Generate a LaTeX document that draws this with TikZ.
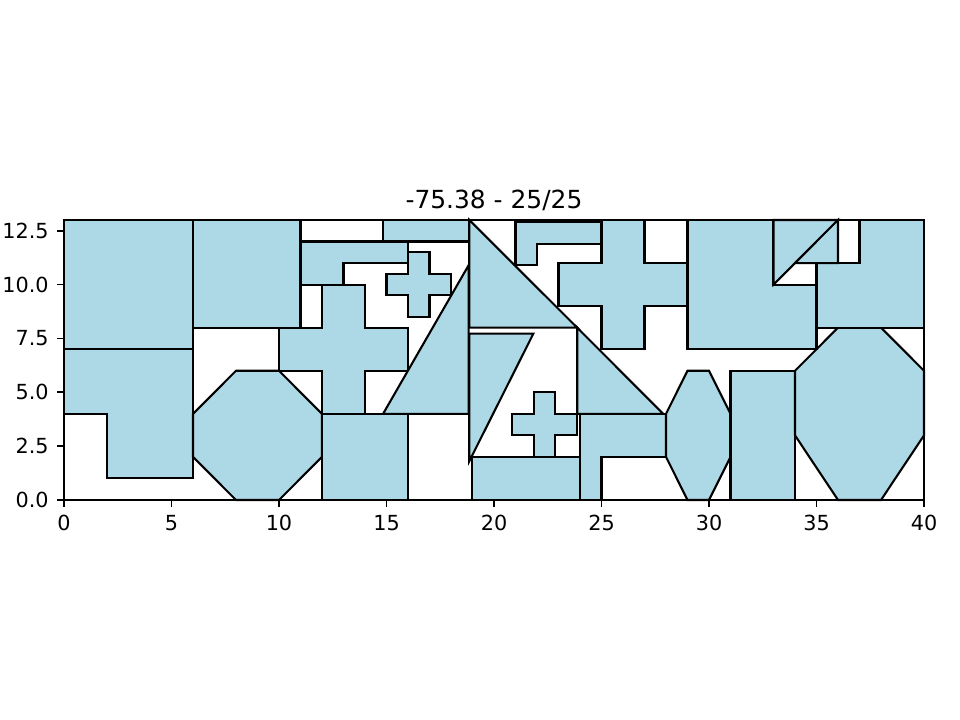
\documentclass[tikz,border=0pt]{standalone}
\usepackage{fontspec}
\setmainfont{DejaVu Sans}
\usetikzlibrary{positioning}
\definecolor{lightblue}{HTML}{ADD8E6}

\begin{document}
\begin{tikzpicture}[
    x=0.5461cm, y=0.5471cm,
    piece/.style={draw=black, fill=lightblue, line width=1.5pt, line join=miter},
    frame/.style={draw=black, line width=1.2pt},
    tickmark/.style={line width=1.2pt},
    every node/.style={font=\fontsize{15}{18}\selectfont, inner sep=0pt}
]
\useasboundingbox (-2.9767,-10.2136) rectangle (41.674,23.2126);

% Left block
\draw[piece] (0,7) rectangle (6,13);
\draw[piece] (6,8) rectangle (11,13);
\draw[piece] (0,7) -- (6,7) -- (6,1) -- (2,1) -- (2,4) -- (0,4) -- cycle;
\draw[piece] (8,6) -- (10,6) -- (12,4) -- (12,2) -- (10,0) -- (8,0) -- (6,2) -- (6,4) -- cycle;
\draw[piece] (12,10) -- (14,10) -- (14,8) -- (16,8) -- (16,6) -- (14,6) -- (14,4) -- (12,4)
    -- (12,6) -- (10,6) -- (10,8) -- (12,8) -- cycle;
\draw[piece] (12,0) rectangle (16,4);
\draw[piece] (11,12) -- (16,12) -- (16,11) -- (13,11) -- (13,10) -- (11,10) -- cycle;
\draw[piece] (14.84,12) rectangle (18.82,13);
\draw[piece] (16,11.5) -- (17,11.5) -- (17,10.5) -- (18,10.5) -- (18,9.5) -- (17,9.5) -- (17,8.5)
    -- (16,8.5) -- (16,9.5) -- (15,9.5) -- (15,10.5) -- (16,10.5) -- cycle;
\draw[piece] (14.84,4) -- (18.82,4) -- (18.82,10.9) -- cycle;

% Middle block
\draw[piece] (18.85,13) -- (18.85,8) -- (23.87,8) -- cycle;
\draw[piece] (18.85,7.72) -- (21.83,7.72) -- (18.85,1.8) -- cycle;
\draw[piece] (18.97,0) rectangle (24,2);
\draw[piece] (21.85,5) -- (22.85,5) -- (22.85,4) -- (23.85,4) -- (23.85,3) -- (22.85,3) -- (22.85,2)
    -- (21.85,2) -- (21.85,3) -- (20.85,3) -- (20.85,4) -- (21.85,4) -- cycle;
\draw[piece] (23.87,8) -- (23.87,4) -- (27.87,4) -- cycle;
\draw[piece] (24,4) -- (28,4) -- (28,2) -- (25,2) -- (25,0) -- (24,0) -- cycle;
\draw[piece] (21,12.9) -- (25,12.9) -- (25,11.9) -- (22,11.9) -- (22,10.9) -- (21,10.9) -- cycle;
\draw[piece] (25,13) -- (27,13) -- (27,11) -- (29,11) -- (29,9) -- (27,9) -- (27,7) -- (25,7)
    -- (25,9) -- (23,9) -- (23,11) -- (25,11) -- cycle;

% Right block
\draw[piece] (29,6) -- (30,6) -- (31,4) -- (31,2) -- (30,0) -- (29,0) -- (28,2) -- (28,4) -- cycle;
\draw[piece] (31,0) rectangle (34,6);
\draw[piece] (36,8) -- (38,8) -- (40,6) -- (40,3) -- (38,0) -- (36,0) -- (34,3) -- (34,6) -- cycle;
\draw[piece] (37,13) -- (40,13) -- (40,8) -- (35,8) -- (35,11) -- (37,11) -- cycle;
\draw[piece] (29,13) -- (33,13) -- (33,10) -- (35,10) -- (35,7) -- (29,7) -- cycle;
\draw[piece] (33,13) -- (36,13) -- (33,10) -- cycle;
\draw[piece] (34,11) -- (36,11) -- (36,13) -- cycle;

% Axes frame and ticks
\draw[frame] (0,0) rectangle (40,13);
\foreach \x [count=\i] in {0,5,...,40} {
    \coordinate (xt\i) at (\x,0);
    \draw[tickmark] (xt\i) -- ++(0,-5.25pt) node[below=5.25pt] (xl\i) {\x};
}
\foreach \y/\lab [count=\i] in {0/0.0, 2.5/2.5, 5/5.0, 7.5/7.5, 10/10.0, 12.5/12.5} {
    \coordinate (yt\i) at (0,\y);
    \draw[tickmark] (yt\i) -- ++(-5.25pt,0) node[left=5.25pt] (yl\i) {\lab};
}

% Title
\coordinate (top) at (20,13);
\node[above=6.5pt of top, font=\fontsize{18}{22}\selectfont] (title) {-75.38 - 25/25};

\end{tikzpicture}
\end{document}
